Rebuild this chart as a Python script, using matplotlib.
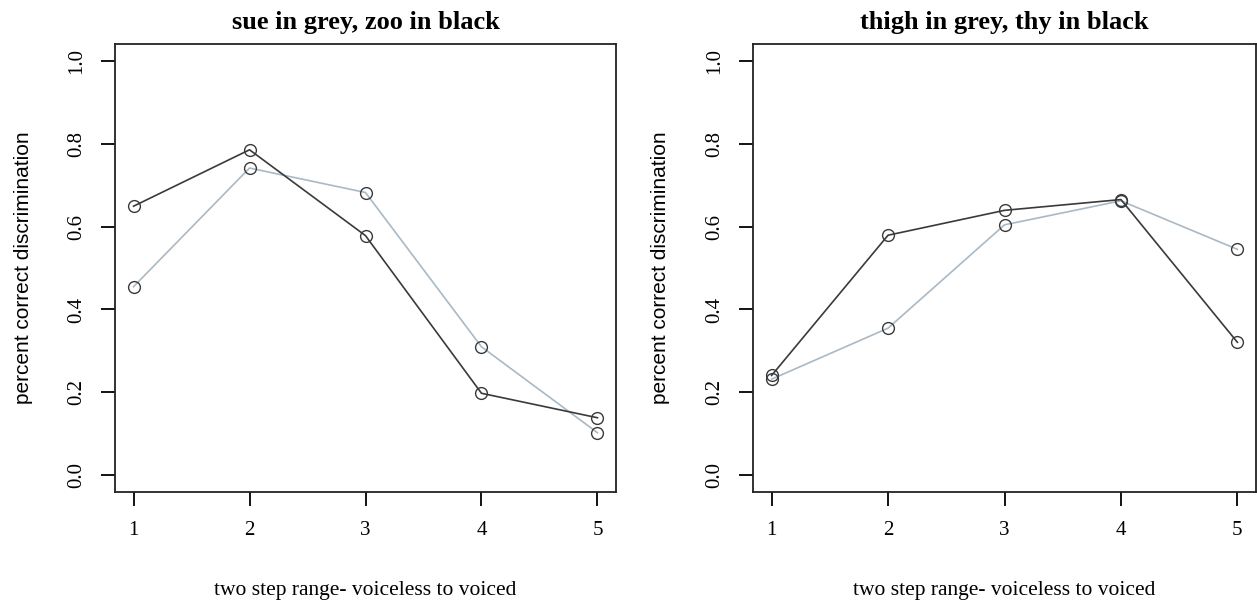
import matplotlib
matplotlib.use("Agg")
import matplotlib.pyplot as plt

# two step range positions
steps = [1, 2, 3, 4, 5]

# left panel: sue (grey) vs zoo (black)
sue = [0.455, 0.741, 0.682, 0.310, 0.103]
zoo = [0.649, 0.785, 0.578, 0.198, 0.139]

# right panel: thigh (grey) vs thy (black)
thigh = [0.232, 0.355, 0.604, 0.662, 0.545]
thy = [0.241, 0.579, 0.639, 0.665, 0.321]

titles = ["sue in grey, zoo in black", "thigh in grey, thy in black"]
yticks = [0.0, 0.2, 0.4, 0.6, 0.8, 1.0]

SERIF = "Liberation Serif"
SANS = "Liberation Sans"
GREY = "#a9b9c5"
BLACK = "#3a3a3a"

fig = plt.figure(figsize=(12.57, 6.04), dpi=100)
W, H = 1257, 604
boxes = [(115, 44, 616, 492), (753, 44, 1256, 492)]
ylab_x = [24, 661]

panels = [(sue, zoo), (thigh, thy)]
for i, (grey_vals, black_vals) in enumerate(panels):
    x0, y0, x1, y1 = boxes[i]
    ax = fig.add_axes([x0 / W, 1 - y1 / H, (x1 - x0) / W, (y1 - y0) / H])
    ax.plot(steps, grey_vals, color=GREY, lw=1.2, marker="o", ms=8.5,
            mfc="none", mec=BLACK, mew=1.0, zorder=2)
    ax.plot(steps, black_vals, color=BLACK, lw=1.2, marker="o", ms=8.5,
            mfc="none", mec=BLACK, mew=1.0, zorder=3)
    ax.set_xlim(0.84, 5.16)
    ax.set_ylim(-0.04, 1.04)
    ax.set_xticks(steps)
    ax.set_yticks(yticks)
    ax.set_xticklabels([str(s) for s in steps], fontfamily=SERIF, fontsize=15)
    ax.set_yticklabels([f"{v:.1f}" for v in yticks], fontfamily=SERIF,
                       fontsize=15, rotation=90, va="center")
    ax.tick_params(axis="x", direction="out", length=10, width=1.3, pad=11)
    ax.tick_params(axis="y", direction="out", length=10, width=1.3, pad=11)
    for sp in ax.spines.values():
        sp.set_linewidth(1.3)
        sp.set_color("#222222")
    ax.set_title(titles[i], fontfamily=SERIF, fontweight="bold", fontsize=19,
                 pad=11)
    ax.set_xlabel("two step range- voiceless to voiced", fontfamily=SERIF,
                  fontsize=15.5)
    ax.xaxis.set_label_coords(0.5, -(590 - y1) / (y1 - y0), transform=ax.transAxes)
    ax.xaxis.label.set_va("center")
    ax.set_ylabel("percent correct discrimination", fontfamily=SANS, fontsize=15)
    ax.yaxis.set_label_coords(-(x0 - ylab_x[i]) / (x1 - x0), 0.5)
    ax.yaxis.label.set_va("center")

fig.savefig("out.png", dpi=100)
